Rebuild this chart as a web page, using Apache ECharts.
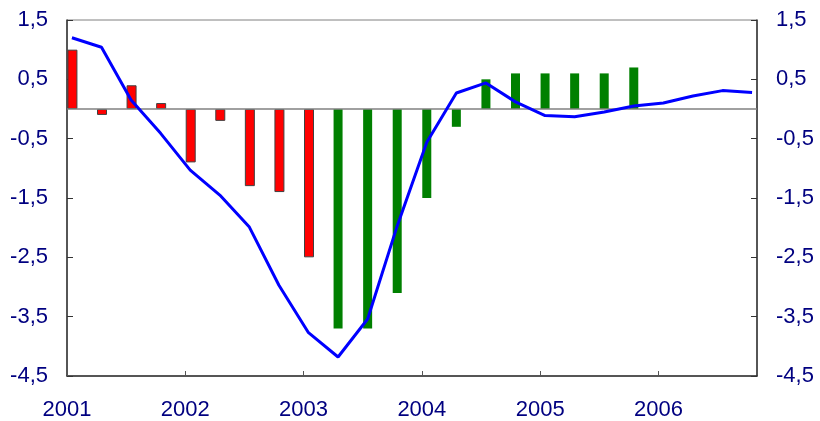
<!DOCTYPE html>
<html>
<head>
<meta charset="utf-8">
<title>chart</title>
<script src="https://cdn.jsdelivr.net/npm/echarts@6/dist/echarts.min.js"></script>
<style>
  html, body { margin: 0; padding: 0; background: #fff; }
  #chart { width: 820px; height: 421px; }
</style>
</head>
<body>
<div id="chart"></div>
<script>
// quarterly data, 2001Q1 .. 2006Q4
const firstYear = 2001;
const redBars = [1.0, -0.1, 0.4, 0.1, -0.9, -0.2, -1.3, -1.4, -2.5];
const greenBars = [-3.7, -3.7, -3.1, -1.5, -0.3, 0.5, 0.6, 0.6, 0.6, 0.6, 0.7];
const lineValues = [1.2, 1.04, 0.15, -0.41, -1.03, -1.45, -1.99, -2.97, -3.77, -4.18,
  -3.54, -1.97, -0.56, 0.27, 0.44, 0.12, -0.11, -0.13, -0.05, 0.05, 0.1, 0.22, 0.31, 0.28];
const yTicks = [-4.5, -3.5, -2.5, -1.5, -0.5, 0.5, 1.5];

// x in months since Jan 2001, point sits mid of the quarter's first month
const monthOf = (i) => i * 3 + 0.5;

const labelColor = "#000080";
const fmt = (v) => String(v).replace(".", ",");

var myChart = echarts.init(document.getElementById("chart"));

const yAxisBase = {
  type: "value",
  min: yTicks[0],
  max: yTicks[yTicks.length - 1],
  interval: 1,
  axisLine: { show: true, lineStyle: { color: "#333", width: 1.5 } },
  axisTick: { show: true, inside: true, length: 6, lineStyle: { color: "#333" } },
  splitLine: { show: false },
  axisLabel: {
    color: labelColor,
    fontFamily: "Liberation Sans",
    fontSize: 22,
    margin: 19,
    formatter: fmt,
  },
};

myChart.setOption({
  animation: false,
  grid: {
    left: 67,
    right: 63,
    top: 20,
    bottom: 45,
    show: true,
    borderColor: "#808080",
    borderWidth: 1,
  },
  xAxis: {
    type: "value",
    min: 0,
    max: 70,
    interval: 12,
    axisLine: { show: true, onZero: false, lineStyle: { color: "#333", width: 1.5 } },
    axisTick: { show: true, inside: true, length: 5, lineStyle: { color: "#555" } },
    splitLine: { show: false },
    axisLabel: {
      color: labelColor,
      fontFamily: "Liberation Sans",
      fontSize: 22,
      margin: 23,
      showMaxLabel: false,
      formatter: (v) => String(firstYear + v / 12),
    },
  },
  yAxis: [
    Object.assign({}, yAxisBase, { position: "left" }),
    Object.assign({}, yAxisBase, { position: "right" }),
  ],
  series: [
    {
      type: "bar",
      barWidth: 10,
      barGap: "-100%",
      data: redBars.map((v, i) => [monthOf(i), v]),
      itemStyle: { color: "#ff0000", borderColor: "#404040", borderWidth: 1 },
      markLine: {
        silent: true,
        symbol: "none",
        label: { show: false },
        lineStyle: { color: "#808080", width: 1.5, type: "solid" },
        data: [{ yAxis: 0 }],
      },
    },
    {
      type: "bar",
      barWidth: 9,
      barGap: "-100%",
      data: greenBars.map((v, i) => [monthOf(i + redBars.length), v]),
      itemStyle: { color: "#008000" },
    },
    {
      type: "line",
      data: lineValues.map((v, i) => [monthOf(i), v]),
      showSymbol: false,
      lineStyle: { color: "#0000ff", width: 3 },
      z: 5,
    },
  ],
});
</script>
</body>
</html>
